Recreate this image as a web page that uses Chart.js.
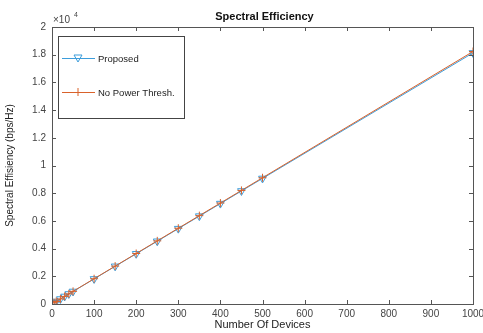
<!DOCTYPE html>
<html lang="en">
<head>
    <meta charset="UTF-8">
    <title>Spectral Efficiency</title>
    <script src="https://cdn.jsdelivr.net/npm/chart.js"></script>
    <style>
        body { margin: 0; background: #fff; }
        .wrap { width: 483px; height: 333px; position: relative; }
    </style>
</head>
<body>
    <div class="wrap"><canvas id="chart" width="483" height="333"></canvas></div>
    <script>
        // datos
        const devices = [5, 10, 20, 30, 40, 50, 100, 150, 200, 250, 300, 350, 400, 450, 500, 1000];
        const proposed = [90, 180, 360, 545, 725, 905, 1810, 2720, 3625, 4530, 5440, 6345, 7250, 8160, 9065, 18130];
        const noThresh = [92, 183, 365, 550, 730, 912, 1825, 2735, 3645, 4560, 5470, 6380, 7290, 8200, 9115, 18230];
        const xTicks = [0, 100, 200, 300, 400, 500, 600, 700, 800, 900, 1000];
        const yTicks = [0, 2000, 4000, 6000, 8000, 10000, 12000, 14000, 16000, 18000, 20000];
        const seriesNames = ['Proposed', 'No Power Thresh.'];

        const blue = '#3c9ddb';
        const orange = '#d9622b';
        const font = 'Liberation Sans, Arial, sans-serif';

        // caja estilo matlab, ticks hacia dentro, titulo y leyenda
        const matlabBox = {
            id: 'matlabBox',
            afterDraw(chart) {
                const { ctx, chartArea: a, scales } = chart;
                ctx.save();
                ctx.strokeStyle = '#555';
                ctx.lineWidth = 1;
                ctx.strokeRect(a.left + 0.5, a.top + 0.5, a.right - a.left, a.bottom - a.top);
                ctx.beginPath();
                xTicks.forEach(t => {
                    const x = Math.round(scales.x.getPixelForValue(t)) + 0.5;
                    ctx.moveTo(x, a.bottom); ctx.lineTo(x, a.bottom - 4);
                    ctx.moveTo(x, a.top); ctx.lineTo(x, a.top + 4);
                });
                yTicks.forEach(t => {
                    const y = Math.round(scales.y.getPixelForValue(t)) + 0.5;
                    ctx.moveTo(a.left, y); ctx.lineTo(a.left + 4, y);
                    ctx.moveTo(a.right, y); ctx.lineTo(a.right - 4, y);
                });
                ctx.stroke();

                // titulo
                ctx.fillStyle = '#111';
                ctx.font = 'bold 11px ' + font;
                ctx.textAlign = 'center';
                ctx.textBaseline = 'middle';
                ctx.fillText('Spectral Efficiency', (a.left + a.right) / 2 + 2, 17);

                // x10^4
                ctx.fillStyle = '#444';
                ctx.textAlign = 'left';
                ctx.font = '10px ' + font;
                ctx.fillText('\u00d710', a.left + 1, 20);
                ctx.font = '7px ' + font;
                ctx.fillText('4', a.left + 22, 15);

                // leyenda
                const lx = 58, ly = 36, lw = 126, lh = 82;
                ctx.fillStyle = '#fff';
                ctx.fillRect(lx, ly, lw, lh);
                ctx.strokeStyle = '#444';
                ctx.strokeRect(lx + 0.5, ly + 0.5, lw, lh);
                const rows = [ly + 22, ly + 56];
                const colors = [blue, orange];
                ctx.font = '9.5px ' + font;
                ctx.textBaseline = 'middle';
                rows.forEach((yy, i) => {
                    ctx.strokeStyle = colors[i];
                    ctx.lineWidth = 1;
                    ctx.beginPath();
                    ctx.moveTo(lx + 4, yy + 0.5); ctx.lineTo(lx + 37, yy + 0.5);
                    ctx.stroke();
                    const cx = lx + 20;
                    ctx.beginPath();
                    if (i === 0) {
                        ctx.moveTo(cx - 4, yy - 3); ctx.lineTo(cx + 4, yy - 3); ctx.lineTo(cx, yy + 4); ctx.closePath();
                    } else {
                        ctx.moveTo(cx, yy - 4); ctx.lineTo(cx, yy + 4);
                    }
                    ctx.stroke();
                    ctx.fillStyle = '#222';
                    ctx.fillText(seriesNames[i], lx + 40, yy + 1);
                });
                ctx.restore();
            }
        };

        new Chart(document.getElementById('chart'), {
            type: 'line',
            data: {
                datasets: [{
                    label: seriesNames[0],
                    data: devices.map((d, i) => ({ x: d, y: proposed[i] })),
                    order: 1,
                    borderColor: blue,
                    borderWidth: 1,
                    pointStyle: 'triangle',
                    rotation: 180,
                    pointRadius: 4.5,
                    pointBackgroundColor: 'rgba(0,0,0,0)',
                    pointBorderColor: blue,
                    pointBorderWidth: 1,
                    fill: false
                }, {
                    label: seriesNames[1],
                    data: devices.map((d, i) => ({ x: d, y: noThresh[i] })),
                    order: 0,
                    borderColor: orange,
                    borderWidth: 1,
                    pointStyle: 'cross',
                    pointRadius: 4,
                    pointBorderColor: orange,
                    pointBorderWidth: 1,
                    fill: false
                }]
            },
            options: {
                responsive: false,
                animation: false,
                layout: { padding: { left: 0, right: 0, top: 27, bottom: 0 } },
                plugins: { legend: { display: false }, tooltip: { enabled: false } },
                scales: {
                    x: {
                        type: 'linear',
                        min: 0, max: 1000,
                        afterBuildTicks: s => { s.ticks = xTicks.map(v => ({ value: v })); },
                        grid: { display: false, drawTicks: false },
                        border: { display: false },
                        ticks: { color: '#444', font: { family: font, size: 10 }, padding: 4, maxRotation: 0, autoSkip: false, callback: v => String(v) },
                        title: { display: true, text: 'Number Of Devices', color: '#222', font: { family: font, size: 11 }, padding: { top: 0, bottom: 1 } },
                        afterFit: s => { s.height = 29; s.paddingRight = 10; }
                    },
                    y: {
                        min: 0, max: 20000,
                        afterBuildTicks: s => { s.ticks = yTicks.map(v => ({ value: v })); },
                        grid: { display: false, drawTicks: false },
                        border: { display: false },
                        ticks: { color: '#444', font: { family: font, size: 10 }, padding: 6, autoSkip: false, callback: v => String(v / 10000) },
                        title: { display: true, text: 'Spectral Effisiency (bps/Hz)', color: '#222', font: { family: font, size: 10 }, padding: 4 },
                        afterFit: s => { s.width = 52; }
                    }
                }
            },
            plugins: [matlabBox]
        });
    </script>
</body>
</html>
